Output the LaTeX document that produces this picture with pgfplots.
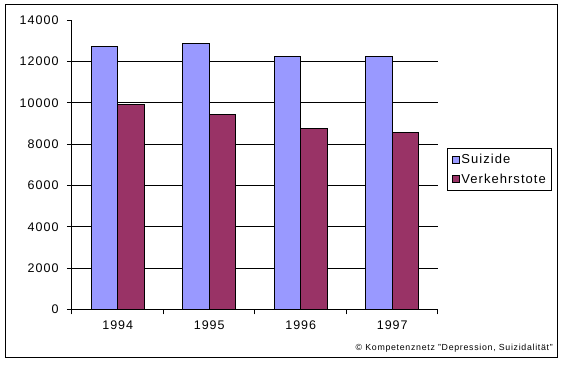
\documentclass[border=0pt]{standalone}
\usepackage{pgfplots}
\pgfplotsset{compat=1.18}
\usepackage{fontspec}
\setmainfont{Liberation Sans}[LetterSpace=8]
\definecolor{sui}{HTML}{9999FF}
\definecolor{ver}{HTML}{993366}
\pgfplotsset{sqlegend/.style={legend image code/.code={\draw[##1, draw=black, line width=0.6pt] (0pt,-3.5pt) rectangle (7pt,3.5pt);}}}
\begin{document}
\begin{tikzpicture}
\path (0pt,0pt) rectangle (566pt,371pt);
\draw[line width=1pt] (5.5pt,13.3pt) rectangle (557.7pt,366pt);
\begin{axis}[at={(72pt,61.7pt)}, anchor=south west, scale only axis,
  width=366pt, height=289pt,
  xmin=-0.5, xmax=3.5, ymin=0, ymax=14000,
  axis x line*=bottom, axis y line*=left,
  axis line style={line width=1pt,-},
  tick align=outside, major tick length=5pt,
  tick style={black, line width=1pt},
  xtick={-0.5,0.5,1.5,2.5,3.5}, xticklabels={},
  extra x ticks={0,1,2,3}, extra x tick labels={1994,1995,1996,1997},
  extra x tick style={major tick length=0pt},
  ytick={0,2000,...,14000},
  extra y ticks={2000,4000,...,12000}, extra y tick labels={},
  extra y tick style={grid=major, major tick length=0pt},
  grid style={black, line width=1pt},
  /pgf/number format/assume math mode=true,
  scaled y ticks=false,
  y tick label style={font=\fontsize{12.5}{14}\selectfont, xshift=-5pt, /pgf/number format/1000 sep={}},
  x tick label style={font=\fontsize{12.5}{14}\selectfont, yshift=-7.6pt},
  legend style={at={(1.0254,0.557)}, anchor=north west, draw=black, line width=1pt,
    font=\fontsize{13}{15}\selectfont, legend cell align=left,
    inner xsep=4pt, inner ysep=3.5pt, row sep=4.5pt},
  ybar, bar width=26.5pt,
]
\addplot[fill=sui, draw=black, line width=1pt, bar shift=-13.25pt, sqlegend] coordinates {(0,12720) (1,12880) (2,12238) (3,12238)};
\addplot[fill=ver, draw=black, line width=1pt, bar shift=13.25pt, sqlegend] coordinates {(0,9920) (1,9452) (2,8754) (3,8560)};
\legend{Suizide,Verkehrstote}
\end{axis}
\node[anchor=east, font=\fontsize{8.8}{10}\selectfont, inner sep=0pt] at (553pt,23pt) {© Kompetenznetz "Depression, Suizidalität"};
\end{tikzpicture}
\end{document}
